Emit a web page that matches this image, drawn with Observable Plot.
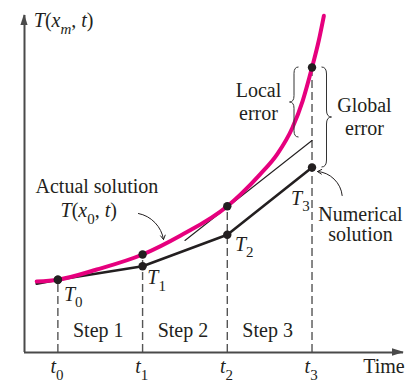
<!DOCTYPE html>
<html><head><meta charset="utf-8">
<script src="https://cdn.jsdelivr.net/npm/d3@7"></script>
<script src="https://cdn.jsdelivr.net/npm/@observablehq/plot@0.6"></script>
<style>
html,body{margin:0;padding:0;background:#fff;}
#chart svg{display:block;overflow:visible;}
#chart svg text, #chart svg tspan{font-family:"Liberation Serif","DejaVu Serif","Times New Roman",serif;}
</style>
</head><body><div id="chart"></div>
<script>
// ---- data ----
const stepTimes = [0, 1, 2, 3];
const tickLabels = ["t_0", "t_1", "t_2", "t_3"];
const numericalLabels = ["T_0", "T_1", "T_2", "T_3"];
const stepLabels = ["Step 1", "Step 2", "Step 3"];
const actualTimes = [-0.25, 0, 0.46, 1, 1.45, 2, 2.16, 2.39, 2.59, 2.77, 2.89, 3, 3.08, 3.14];
const actualValues = [7.1, 7.28, 8.3, 9.8, 11.7, 14.63, 15.84, 17.84, 19.84, 22.5, 25.17, 28.5, 31.2, 33.67];
const actualAtSteps = [7.28, 9.8, 14.63, 28.5];
const numericalTimes = [-0.25, 0, 1, 2, 3];
const numericalValues = [6.87, 7.28, 8.63, 11.77, 18.5];
const tangentTimes = [1.5, 3];
const tangentValues = [11.2, 21.2];
const yAxisLabel = "T(x_m, t)";
const xAxisLabel = "Time";
const actualLabel = "Actual solution";
const actualFormula = "T(x_0, t)";
const localLabel = "Local\nerror";
const globalLabel = "Global\nerror";
const numericalLabel = "Numerical\nsolution";

// ---- tables ----
const actual = actualTimes.map((t, i) => ({t, v: actualValues[i]}));
const numerical = numericalTimes.map((t, i) => ({t, v: numericalValues[i]}));
const tangent = tangentTimes.map((t, i) => ({t, v: tangentValues[i]}));
const actualPts = stepTimes.map((t, i) => ({t, v: actualAtSteps[i]}));
const numPts = stepTimes.map(t => numerical.find(d => d.t === t));

const ink = "#231f20";
const font = {fontFamily: "Liberation Serif", fontSize: 20, fill: ink, lineAnchor: "middle"};
const xMin = -0.394, xMax = 4.08;
const T3 = numPts[3].v, A3 = actualAtSteps[3], tanEnd = tangentValues[1];

function bracePath(xEnd, xTip, y1, y2) {
  const xm = (xEnd + xTip) / 2, ym = (y1 + y2) / 2, q = Math.abs(xTip - xEnd) * 0.7;
  return `M${xEnd},${y1}Q${xm},${y1} ${xm},${y1 + q}L${xm},${ym - q}Q${xm},${ym} ${xTip},${ym}` +
         `Q${xm},${ym} ${xm},${ym + q}L${xm},${y2 - q}Q${xm},${y2} ${xEnd},${y2}`;
}

const labelOffsets = [[6, 14.4], [4.7, 11.2], [7.6, 9.3], [-21, 30.6]];

const plot = Plot.plot({
  width: 412, height: 380,
  marginLeft: 24, marginRight: 9, marginTop: 15, marginBottom: 28,
  x: {domain: [xMin, xMax], axis: null},
  y: {domain: [0, 33.7], axis: null},
  marks: [
    // dashed step verticals
    Plot.ruleX(actualPts, {x: "t", y1: 0, y2: "v", stroke: "#555", strokeWidth: 1.4, strokeDasharray: "8,4"}),
    // axes
    Plot.ruleY([0], {stroke: "#4a4a4a", strokeWidth: 2}),
    Plot.ruleX([xMin], {stroke: "#4a4a4a", strokeWidth: 2}),
    (index, {x, y}) => {
      const g = d3.create("svg:g").attr("fill", "#4a4a4a");
      const x0 = x(xMin), y0 = y(0), xe = x(xMax) + 1, yt = y(33.7) - 1;
      g.append("path").attr("d", `M${x0},${yt}L${x0 - 3.6},${yt + 11}L${x0 + 3.6},${yt + 11}Z`);
      g.append("path").attr("d", `M${xe},${y0}L${xe - 12},${y0 - 3.7}L${xe - 12},${y0 + 3.7}Z`);
      return g.node();
    },
    // numerical and tangent lines
    Plot.line(numerical, {x: "t", y: "v", stroke: ink, strokeWidth: 2.6}),
    Plot.line(tangent, {x: "t", y: "v", stroke: ink, strokeWidth: 1.1}),
    // actual solution
    Plot.line(actual, {x: "t", y: "v", stroke: "#e6007e", strokeWidth: 4, curve: "monotone-x"}),
    Plot.dot(actualPts, {x: "t", y: "v", r: 4.2, fill: ink}),
    Plot.dot(numPts, {x: "t", y: "v", r: 4.2, fill: ink}),
    // braces
    (index, {x, y}) => {
      const g = d3.create("svg:g").attr("fill", "none").attr("stroke", "#333").attr("stroke-width", 1);
      const xs = x(3);
      g.append("path").attr("d", bracePath(xs - 13, xs - 22, y(A3), y(tanEnd) - 3));
      g.append("path").attr("d", bracePath(xs + 10, xs + 20, y(A3), y(T3)));
      return g.node();
    },
    // curved pointers
    Plot.arrow([0], {x1: 0.951, y1: 13.9, x2: 1.247, y2: 11.3, bend: 35, stroke: ink, strokeWidth: 1, headLength: 7}),
    Plot.arrow([0], {x1: 3.356, y1: 15.7, x2: 3.065, y2: 18.1, bend: -40, stroke: ink, strokeWidth: 1, headLength: 7}),
    // text
    Plot.text([yAxisLabel], {x: -0.2845, y: 33.17, text: d => d, textAnchor: "start", ...font}),
    Plot.text([xAxisLabel], {x: 3.604, y: -1.43, text: d => d, textAnchor: "start", ...font}),
    Plot.text([actualLabel], {x: -0.264, y: 16.57, text: d => d, textAnchor: "start", ...font}),
    Plot.text([actualFormula], {x: 0.031, y: 14.17, text: d => d, textAnchor: "start", ...font}),
    Plot.text([localLabel], {x: 2.368, y: 25.18, text: d => d, textAnchor: "middle", lineHeight: 1.165, ...font}),
    Plot.text([globalLabel], {x: 3.619, y: 23.68, text: d => d, textAnchor: "middle", lineHeight: 1.165, ...font}),
    Plot.text([numericalLabel], {x: 3.572, y: 12.84, text: d => d, textAnchor: "middle", lineHeight: 1.0, ...font}),
    Plot.text(stepLabels, {x: (d, i) => stepTimes[i] + 0.5, y: 2.17, text: d => d, textAnchor: "middle", dx: -2, ...font}),
    Plot.text(tickLabels, {x: (d, i) => stepTimes[i], y: -1.43, text: d => d, textAnchor: "start", dx: -7.4, ...font}),
    ...numericalLabels.map((lab, i) => Plot.text([lab], {x: numPts[i].t, y: numPts[i].v, text: d => d, textAnchor: "start", dx: labelOffsets[i][0], dy: labelOffsets[i][1], ...font}))
  ]
});

// rich text: letters italic, "_c" subscript
d3.select(plot).selectAll("text").each(function() {
  const s = this.textContent;
  if (!s.includes("_")) return;
  const el = d3.select(this);
  el.text(null);
  let sub = false;
  for (let i = 0; i < s.length; i++) {
    const c = s[i];
    if (c === "_") {
      const sc = s[++i];
      el.append("tspan").attr("dy", 7).attr("font-size", 15)
        .attr("font-style", /[A-Za-z]/.test(sc) ? "italic" : "normal").text(sc);
      sub = true;
      continue;
    }
    const t = el.append("tspan").attr("font-style", /[A-Za-z]/.test(c) ? "italic" : "normal").text(c);
    if (sub) { t.attr("dy", -7); sub = false; }
  }
});
d3.select(plot).attr("xml:space", "preserve");

document.getElementById("chart").append(plot);
</script>
</body></html>
